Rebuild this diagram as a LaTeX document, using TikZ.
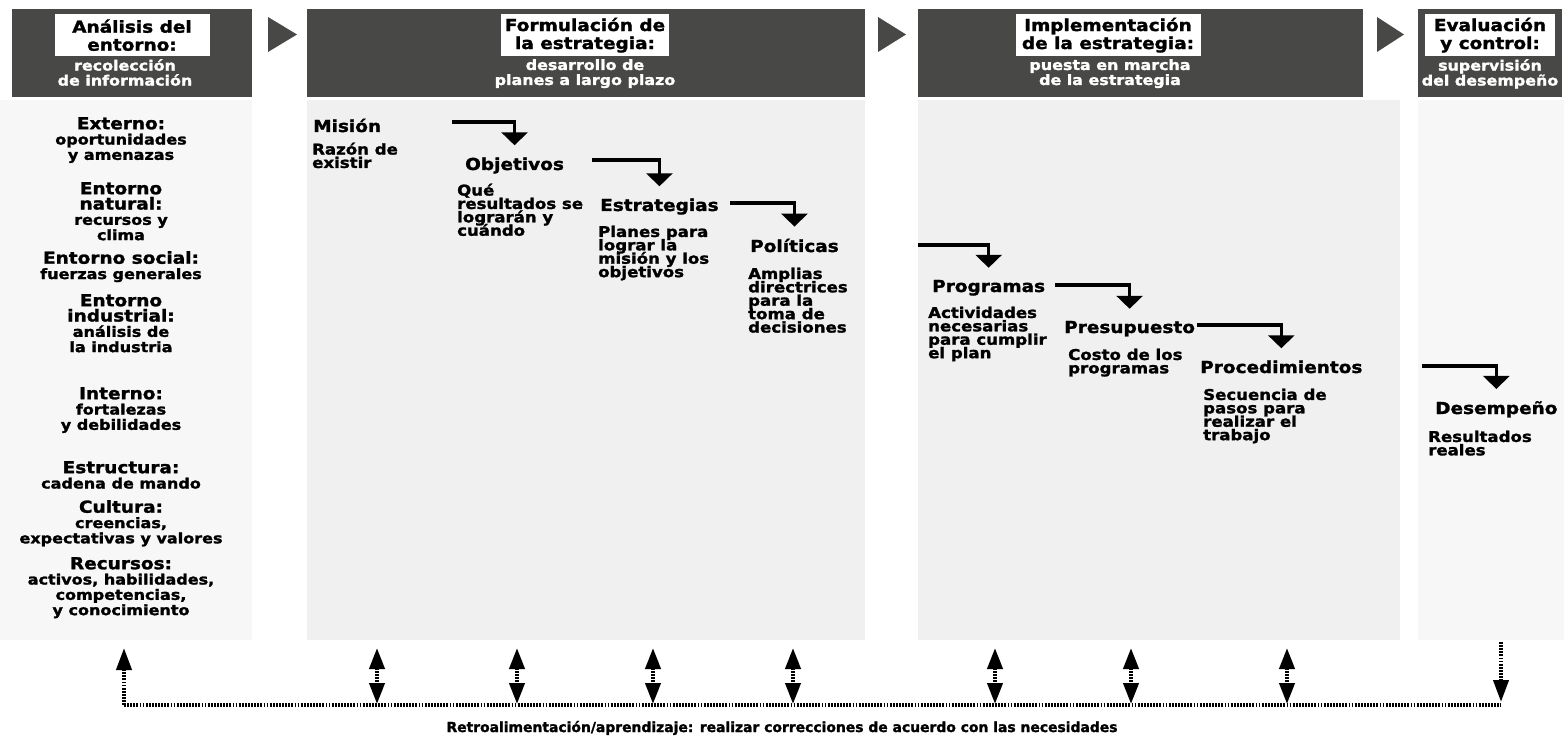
\documentclass[tikz,border=0pt]{standalone}
\usepackage{fontspec}
\newfontfamily\hv{DejaVu Sans}[FakeStretch=1.12, BoldFeatures={FakeBold=1.6}]
\newfontfamily\hvn{DejaVu Sans}[BoldFeatures={FakeBold=1.6}]
\usetikzlibrary{arrows.meta}
\lineskiplimit=-30pt
\definecolor{hdgray}{RGB}{72,72,70}
\definecolor{bandA}{RGB}{247,247,247}
\definecolor{bandB}{RGB}{240,240,240}
\newcommand{\hsz}{\fontsize{16.5}{15.3}\selectfont}
\tikzset{
 hbox/.style={fill=hdgray, draw=none, anchor=north west, inner sep=0pt, minimum height=88pt},
 lbl/.style={fill=white, align=center, inner xsep=4pt, inner ysep=3pt, anchor=north, text=black,
   minimum height=42pt, font=\hv\bfseries\fontsize{16.5}{18}\selectfont},
 subw/.style={align=center, inner sep=0pt, anchor=north, text=white,
   font=\hv\bfseries\fontsize{14.2}{15}\selectfont},
 lcol/.style={align=center, inner sep=0pt, anchor=north,
   font=\hv\bfseries\fontsize{14.3}{15.3}\selectfont},
 fhead/.style={inner sep=0pt, anchor=base west, font=\hv\bfseries\fontsize{16.5}{18}\selectfont},
 fsub/.style={inner sep=0pt, anchor=north west, align=left,
   font=\hv\bfseries\fontsize{14.8}{13.4}\selectfont},
 flow/.style={line width=3.6pt, -{Triangle[length=13pt,width=26pt]}, shorten >=12pt},
 fb/.style={line width=4pt, dash pattern=on 1.8pt off 1.3pt},
 foot/.style={inner sep=0pt, anchor=base, font=\hvn\bfseries\fontsize{13.9}{16}\selectfont},
}
\begin{document}
\begin{tikzpicture}[x=1pt,y=-1pt]
\useasboundingbox (0,0) rectangle (1564,738);
\fill[white] (0,0) rectangle (1564,738);
% background bands
\fill[bandA] (0,100) rectangle (252,640);
\fill[bandB] (307,100) rectangle (865,640);
\fill[bandB] (918,100) rectangle (1400,640);
\fill[bandA] (1418,100) rectangle (1564,640);
% header boxes
\node[hbox, minimum width=240pt] (b1) at (12,9) {};
\node[hbox, minimum width=558pt] (b2) at (307,9) {};
\node[hbox, minimum width=445pt] (b3) at (918,9) {};
\node[hbox, minimum width=144pt] (b4) at (1418,9) {};
\fill[hdgray] (268,17) -- (268,52) -- (297,34.5) -- cycle;
\fill[hdgray] (878,17) -- (878,52) -- (906,34.5) -- cycle;
\fill[hdgray] (1377,17) -- (1377,52) -- (1404,34.5) -- cycle;
\node[lbl, minimum width=155pt] (l1) at (132,14) {Análisis del\\entorno:};
\node[subw] (s1) at (125,59) {recolección\\de información};
\node[lbl, minimum width=165pt] (l2) at (585,14) {Formulación de\\la estrategia:};
\node[subw] (s2) at (585,59) {desarrollo de\\planes a largo plazo};
\node[lbl, minimum width=185pt] (l3) at (1108,14) {Implementación\\de la estrategia:};
\node[subw] (s3) at (1110,59) {puesta en marcha\\de la estrategia};
\node[lbl, minimum width=130pt] (l4) at (1490,14) {Evaluación\\y control:};
\node[subw] (s4) at (1490,59) {supervisión\\del desempeño};
% left column
\node[lcol] (ext) at (121,117) {{\hsz Externo:}\\oportunidades\\y amenazas};
\node[lcol] (nat) at (121,182) {{\hsz Entorno}\\{\hsz natural:}\\recursos y\\clima};
\node[lcol] (soc) at (121,251) {{\hsz Entorno social:}\\fuerzas generales};
\node[lcol] (ind) at (121,294) {{\hsz Entorno}\\{\hsz industrial:}\\análisis de\\la industria};
\node[lcol] (int) at (121,387) {{\hsz Interno:}\\fortalezas\\y debilidades};
\node[lcol] (estr) at (121,461) {{\hsz Estructura:}\\cadena de mando};
\node[lcol] (cul) at (121,500) {{\hsz Cultura:}\\creencias,\\expectativas y valores};
\node[lcol] (rec) at (121,557) {{\hsz Recursos:}\\activos, habilidades,\\competencias,\\y conocimiento};
% flow
\node[fhead] (mis) at (313,132) {Misión};
\node[fsub] (raz) at (312,142.5) {Razón de\\existir};
\node[fhead] (obj) at (465,170) {Objetivos};
\node[fsub] (que) at (457,183.5) {Qué\\resultados se\\lograrán y\\cuándo};
\node[fhead] (est) at (600,211) {Estrategias};
\node[fsub] (pla) at (598,225.5) {Planes para\\lograr la\\misión y los\\objetivos};
\node[fhead] (pol) at (750,252) {Políticas};
\node[fsub] (amp) at (748,267.5) {Amplias\\directrices\\para la\\toma de\\decisiones};
\node[fhead] (pro) at (932,292) {Programas};
\node[fsub] (act) at (928,306.5) {Actividades\\necesarias\\para cumplir\\el plan};
\node[fhead] (pre) at (1064,333) {Presupuesto};
\node[fsub] (cos) at (1068,348.5) {Costo de los\\programas};
\node[fhead] (prc) at (1200,373) {Procedimientos};
\node[fsub] (sec) at (1203,388.5) {Secuencia de\\pasos para\\realizar el\\trabajo};
\node[fhead] (des) at (1435,414) {Desempeño};
\node[fsub] (res) at (1428,430.5) {Resultados\\reales};
% flow arrows
\coordinate (c1) at (452,122);
\coordinate (c2) at (592,160);
\coordinate (c3) at (730,203);
\coordinate (c4) at (918,245);
\coordinate (c5) at (1055,285);
\coordinate (c6) at (1197,325);
\coordinate (c7) at (1422,366);
\draw[flow] (c1) -| (obj.north);
\draw[flow] (c2) -| (est.north);
\draw[flow] (c3) -| (pol.north);
\draw[flow] (c4) -| (pro.north);
\draw[flow] (c5) -| (pre.north);
\draw[flow] (c6) -| (prc.north);
\draw[flow] (c7) -| (des.north);
% feedback
\coordinate (fbL) at (124,705);
\coordinate (fbR) at (1501,705);
\coordinate (up0) at (124,648);
\coordinate (topR) at (1501,642);
\draw[fb] (fbL) -- (fbR);
\draw[fb, -{Triangle[length=22pt,width=15pt]}] (fbL) -- (up0);
\draw[fb, -{Triangle[length=22pt,width=15pt]}, shorten >=3pt] (topR) -- (fbR);
\foreach \x/\n in {377/1,517/2,653/3,793/4,995/5,1131/6,1287/7}{
  \coordinate (ua\n) at (\x,648);
  \coordinate (da\n) at (\x,704);
  \draw[fb, {Triangle[length=21pt,width=15pt]}-{Triangle[length=21pt,width=15pt]}] (ua\n) -- (da\n);
}
\node[foot] (fbl) at (782,732) {Retroalimentación/aprendizaje: realizar correcciones de acuerdo con las necesidades};
\end{tikzpicture}
\end{document}
